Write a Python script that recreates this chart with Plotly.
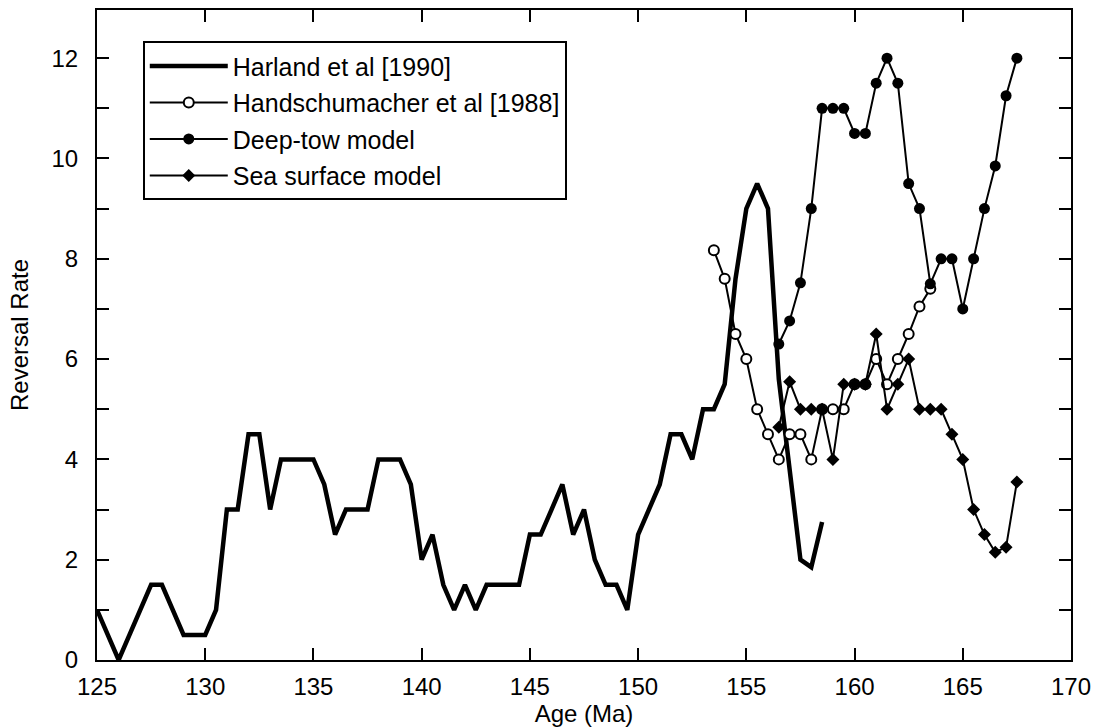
import plotly.graph_objects as go

# Harland et al [1990]
harland_age = [125, 125.5, 126, 126.5, 127, 127.5, 128, 128.5, 129, 129.5, 130, 130.5,
               131, 131.5, 132, 132.5, 133, 133.5, 134, 134.5, 135, 135.5, 136, 136.5,
               137, 137.5, 138, 138.5, 139, 139.5, 140, 140.5, 141, 141.5, 142, 142.5,
               143, 143.5, 144, 144.5, 145, 145.5, 146, 146.5, 147, 147.5, 148, 148.5,
               149, 149.5, 150, 150.5, 151, 151.5, 152, 152.5, 153, 153.5, 154, 154.5,
               155, 155.5, 156, 156.5, 157, 157.5, 158, 158.5]
harland_rate = [1, 0.5, 0, 0.5, 1, 1.5, 1.5, 1, 0.5, 0.5, 0.5, 1,
                3, 3, 4.5, 4.5, 3, 4, 4, 4, 4, 3.5, 2.5, 3,
                3, 3, 4, 4, 4, 3.5, 2, 2.5, 1.5, 1, 1.5, 1,
                1.5, 1.5, 1.5, 1.5, 2.5, 2.5, 3, 3.5, 2.5, 3, 2, 1.5,
                1.5, 1, 2.5, 3, 3.5, 4.5, 4.5, 4, 5, 5, 5.5, 7.6,
                9, 9.5, 9, 5.6, 3.8, 2, 1.85, 2.75]

# Handschumacher et al [1988]
hand_age = [153.5, 154, 154.5, 155, 155.5, 156, 156.5, 157, 157.5, 158, 158.5, 159,
            159.5, 160, 160.5, 161, 161.5, 162, 162.5, 163, 163.5]
hand_rate = [8.17, 7.6, 6.5, 6.0, 5.0, 4.5, 4.0, 4.5, 4.5, 4.0, 5.0, 5.0,
             5.0, 5.5, 5.5, 6.0, 5.5, 6.0, 6.5, 7.05, 7.4]

# Deep-tow model
deep_age = [156.5, 157, 157.5, 158, 158.5, 159, 159.5, 160, 160.5, 161, 161.5, 162,
            162.5, 163, 163.5, 164, 164.5, 165, 165.5, 166, 166.5, 167, 167.5]
deep_rate = [6.3, 6.76, 7.52, 9.0, 11.0, 11.0, 11.0, 10.5, 10.5, 11.5, 12.0, 11.5,
             9.5, 9.0, 7.5, 8.0, 8.0, 7.0, 8.0, 9.0, 9.85, 11.25, 12.0]

# Sea surface model
sea_age = [156.5, 157, 157.5, 158, 158.5, 159, 159.5, 160, 160.5, 161, 161.5, 162,
           162.5, 163, 163.5, 164, 164.5, 165, 165.5, 166, 166.5, 167, 167.5]
sea_rate = [4.64, 5.55, 5.0, 5.0, 5.0, 4.0, 5.5, 5.5, 5.5, 6.5, 5.0, 5.5,
            6.0, 5.0, 5.0, 5.0, 4.5, 4.0, 3.0, 2.5, 2.15, 2.25, 3.55]

x_ticks = [125, 130, 135, 140, 145, 150, 155, 160, 165, 170]
y_ticks = [0, 2, 4, 6, 8, 10, 12]

FONT = "Liberation Sans, Arial, Helvetica, sans-serif"

fig = go.Figure()
fig.add_trace(go.Scatter(x=harland_age, y=harland_rate, mode="lines",
                         name="Harland et al [1990]", legendgroup="a",
                         line=dict(color="black", width=4.5)))
fig.add_trace(go.Scatter(x=hand_age, y=hand_rate, mode="lines+markers",
                         name="Handschumacher et al [1988]", legendgroup="b",
                         line=dict(color="black", width=2),
                         marker=dict(symbol="circle", size=10, color="white",
                                     line=dict(color="black", width=2))))
fig.add_trace(go.Scatter(x=deep_age, y=deep_rate, mode="lines+markers",
                         name="Deep-tow model", legendgroup="c",
                         line=dict(color="black", width=2),
                         marker=dict(symbol="circle", size=11, color="black")))
fig.add_trace(go.Scatter(x=sea_age, y=sea_rate, mode="lines+markers",
                         name="Sea surface model", legendgroup="d",
                         line=dict(color="black", width=2),
                         marker=dict(symbol="diamond", size=10, color="black")))

axis_common = dict(showline=True, linecolor="black", linewidth=2, mirror="allticks",
                   ticks="inside", ticklen=12, tickwidth=1.5, tickcolor="black",
                   showgrid=False, zeroline=False, automargin=False,
                   tickfont=dict(family=FONT, size=24, color="black"))

fig.update_xaxes(range=[125, 170], tickvals=x_ticks, ticklabelstandoff=4,
                 title=dict(text="Age (Ma)", font=dict(family=FONT, size=24, color="black"),
                            standoff=2),
                 **axis_common)
fig.update_yaxes(range=[0, 12.96], tickvals=y_ticks, ticklabelstandoff=12,
                 minor=dict(dtick=1, ticks="inside", ticklen=12, tickwidth=1.5,
                            tickcolor="black", showgrid=False),
                 title=dict(text="Reversal Rate", font=dict(family=FONT, size=24, color="black"),
                            standoff=16),
                 **axis_common)

fig.update_layout(
    width=1094, height=728,
    margin=dict(l=97, r=23, t=10, b=68),
    plot_bgcolor="white", paper_bgcolor="white",
    font=dict(family=FONT, size=24, color="black"),
    legend=dict(x=0.047, y=0.952, xanchor="left", yanchor="top",
                bgcolor="white", bordercolor="black", borderwidth=2,
                font=dict(family=FONT, size=25, color="black"),
                itemwidth=78, tracegroupgap=1),
)

fig.write_html("out.html")
